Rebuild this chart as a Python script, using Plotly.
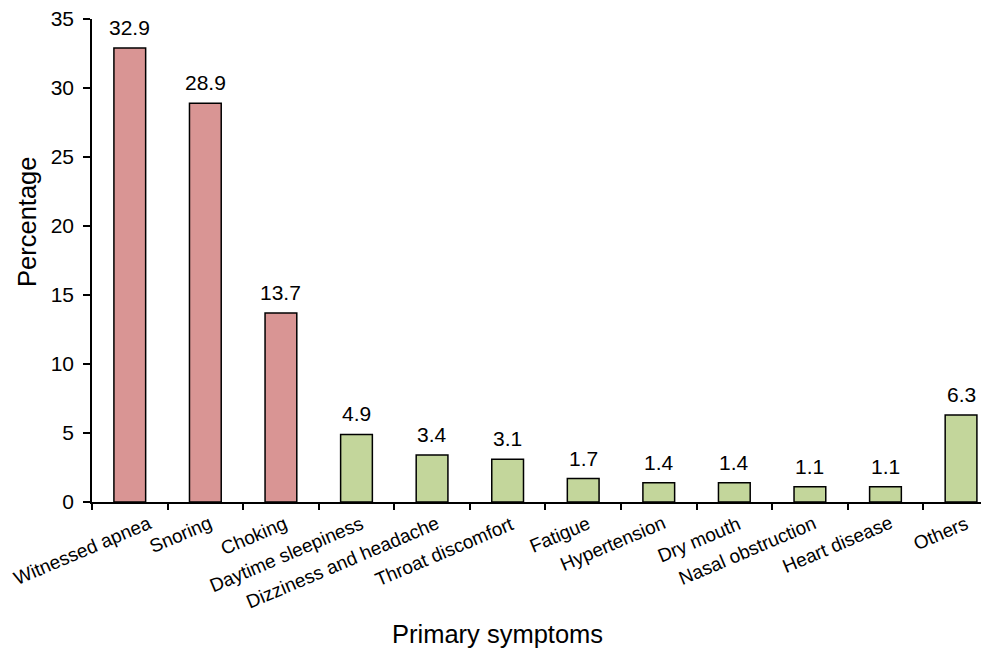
import plotly.graph_objects as go

categories = ["Witnessed apnea", "Snoring", "Choking", "Daytime sleepiness",
              "Dizziness and headache", "Throat discomfort", "Fatigue", "Hypertension",
              "Dry mouth", "Nasal obstruction", "Heart disease", "Others"]
values = [32.9, 28.9, 13.7, 4.9, 3.4, 3.1, 1.7, 1.4, 1.4, 1.1, 1.1, 6.3]
groups = ["main"] * 3 + ["other"] * 9
group_colors = {"main": "#D99594", "other": "#C3D69B"}
y_ticks = [0, 5, 10, 15, 20, 25, 30, 35]

font_family = "Liberation Sans, Arial, sans-serif"

fig = go.Figure(go.Bar(
    x=categories,
    y=values,
    marker=dict(color=[group_colors[g] for g in groups],
                line=dict(color="black", width=1.5)),
    width=0.42,
    cliponaxis=False,
))

# value labels above bars
for c, v in zip(categories, values):
    fig.add_annotation(x=c, y=v, text=f"{v:.1f}", showarrow=False,
                       yanchor="bottom", yshift=7,
                       font=dict(size=21, color="black", family=font_family))

# rotated category labels (annotations so the first one can be kept inside the page,
# as the original chart does)
label_xshift = 11
first_label_extra = 15
for i, c in enumerate(categories):
    dx = label_xshift + (first_label_extra if i == 0 else 0)
    fig.add_annotation(x=c, y=0, text=c, showarrow=False, textangle=-23,
                       xanchor="right", yanchor="top", xshift=dx, yshift=-9,
                       borderpad=0,
                       font=dict(size=19, color="black", family=font_family))

# axis titles
fig.add_annotation(text="Primary symptoms", xref="paper", yref="paper",
                   x=0.4526, y=-0.273, xanchor="center", yanchor="middle",
                   showarrow=False, font=dict(size=25.5, color="black", family=font_family))
fig.add_annotation(text="Percentage", xref="paper", yref="paper",
                   x=-0.0725, y=0.5797, xanchor="center", yanchor="middle",
                   textangle=-90, showarrow=False,
                   font=dict(size=25.5, color="black", family=font_family))

fig.update_layout(
    width=981, height=644,
    paper_bgcolor="white", plot_bgcolor="white",
    margin=dict(l=84, r=0, t=11, b=150),
    font=dict(family=font_family, color="black", size=21),
    showlegend=False,
    xaxis=dict(
        range=[-0.5, 11.37], automargin=False, showticklabels=False,
        tickson="boundaries", ticks="outside", ticklen=6,
        tickcolor="black", tickwidth=1.5, showline=True, linecolor="black", linewidth=1.5,
        showgrid=False,
    ),
    yaxis=dict(
        range=[0, 35], tickvals=y_ticks, ticks="outside", ticklen=7,
        tickcolor="black", tickwidth=1.5, showline=True, linecolor="black", linewidth=1.5,
        showgrid=False, zeroline=False, tickfont=dict(size=21), automargin=False,
        ticklabelstandoff=5, ticklabeloverflow="allow",
    ),
)

fig.write_html("out.html")
